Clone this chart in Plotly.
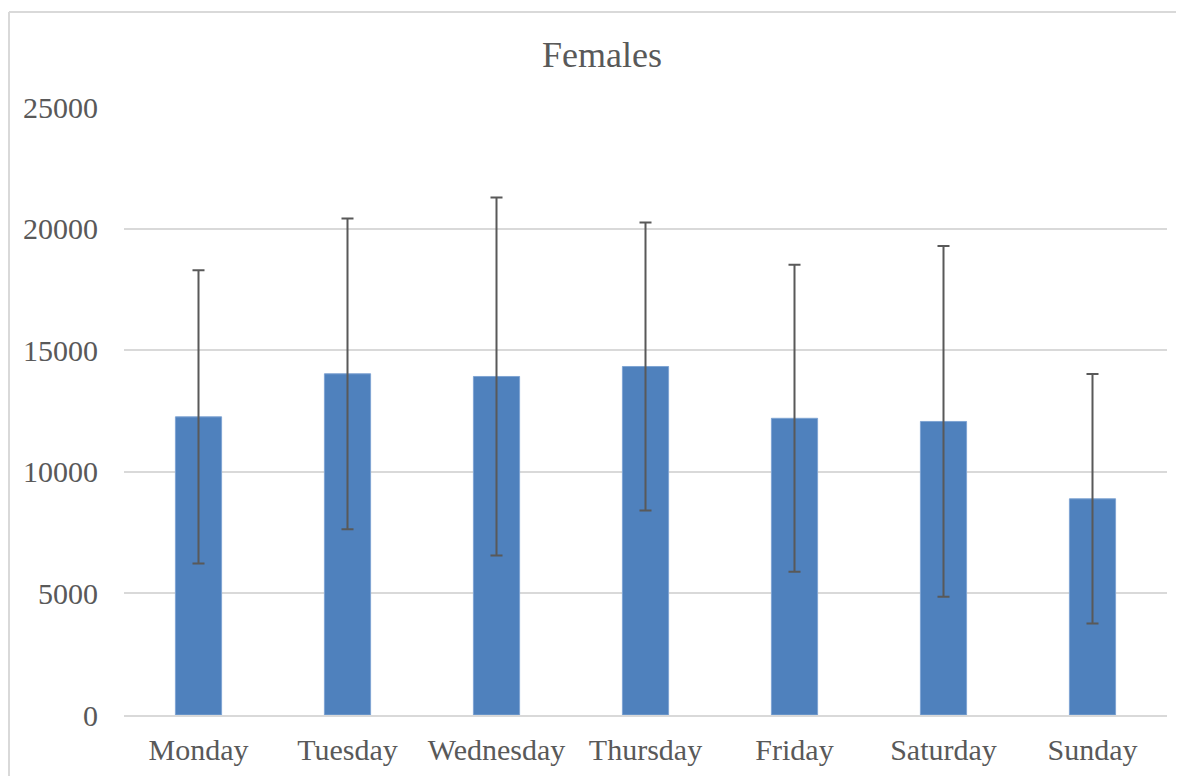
import plotly.graph_objects as go

# values
days = ["Monday", "Tuesday", "Wednesday", "Thursday", "Friday", "Saturday", "Sunday"]
means = [12260, 14030, 13920, 14330, 12200, 12070, 8890]
errors = [6030, 6390, 7360, 5920, 6310, 7210, 5130]
y_ticks = [0, 5000, 10000, 15000, 20000, 25000]

TEXT = "#595959"
BORDER = "#d9d9d9"
FONT = "Liberation Serif, Times New Roman, serif"

# the page adds an 8px body margin, so shift everything up/left by that
# and shrink the figure so it does not overflow the window
OFF = 8
W, H = 1184 - OFF, 776 - OFF
L, R, T, B = 124 - OFF, 1167 - OFF, 107 - OFF, 715 - OFF


def px_x(x):
    return (x - OFF - L) / (R - L)


def px_y(y):
    return (B - (y - OFF)) / (B - T)


fig = go.Figure(go.Bar(
    x=days, y=means, width=0.31,
    marker=dict(color="#4f81bd", line=dict(color="#7fa4d3", width=1)),
    error_y=dict(type="data", array=errors, visible=True,
                 color="#595959", thickness=2, width=6),
))

fig.update_layout(
    width=W, height=H,
    margin=dict(l=L, r=W - R, t=T, b=H - B),
    paper_bgcolor="white", plot_bgcolor="white",
    title=dict(text="Females", x=(602 - OFF) / W, xanchor="center",
               y=1 - (54 - OFF) / H, yanchor="middle",
               font=dict(family=FONT, size=36, color=TEXT)),
    font=dict(family=FONT, color=TEXT),
    showlegend=False,
    bargap=0.69,
    xaxis=dict(showgrid=False, showline=True, linecolor=BORDER, linewidth=2,
               tickfont=dict(family=FONT, size=30, color=TEXT),
               ticks="", ticklabelstandoff=7, automargin=False),
    yaxis=dict(range=[0, 25000], tickvals=y_ticks, ticktext=[str(v) for v in y_ticks],
               showgrid=True, gridcolor=BORDER, gridwidth=1.5, zeroline=False,
               showline=False, ticks="", ticklabelstandoff=25, automargin=False,
               tickfont=dict(family=FONT, size=30, color=TEXT)),
    # chart-area border: only the top and left edges fall inside the picture
    shapes=[
        dict(type="line", xref="paper", yref="paper",
             x0=px_x(9), x1=px_x(1300), y0=px_y(12), y1=px_y(12),
             line=dict(color=BORDER, width=2), layer="below"),
        dict(type="line", xref="paper", yref="paper",
             x0=px_x(9), x1=px_x(9), y0=px_y(12), y1=px_y(900),
             line=dict(color=BORDER, width=2), layer="below"),
    ],
)

fig.write_html("out.html")
